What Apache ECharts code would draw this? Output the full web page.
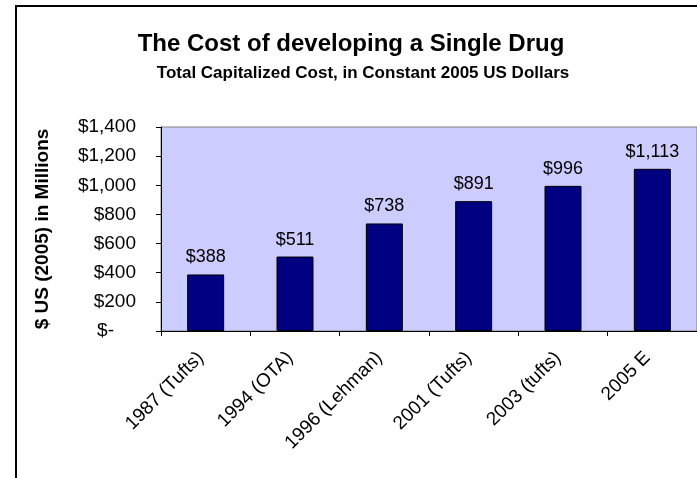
<!DOCTYPE html>
<html lang="en">
<head>
    <meta charset="UTF-8">
    <script type="text/javascript" src="https://cdn.jsdelivr.net/npm/echarts@6/dist/echarts.min.js"></script>
    <title>Cost of developing a Single Drug</title>
    <style type="text/css">
        html, body { margin: 0; padding: 0; background: #fff; }
        #chart { width: 697px; height: 478px; }
    </style>
</head>
<body>
<div id="chart"></div>
<script type="text/javascript">
    // study / year labels and cost in millions of 2005 US dollars
    const studies = ['1987 (Tufts)', '1994 (OTA)', '1996 (Lehman)', '2001 (Tufts)', '2003 (tufts)', '2005 E'];
    const costs = [388, 511, 738, 891, 996, 1113];
    const yTicks = [0, 200, 400, 600, 800, 1000, 1200, 1400];

    const font = 'Arial, "Liberation Sans", sans-serif';

    function dollars(v) {
        if (v === 0) return '{z|$-}';
        return '$' + v.toLocaleString('en-US');
    }

    let chart = echarts.init(document.getElementById('chart'));

    let option = {
        backgroundColor: '#ffffff',
        animation: false,
        title: [{
            text: 'The Cost of developing a Single Drug',
            left: 346,
            top: 27,
            textAlign: 'center',
            textStyle: { fontFamily: font, fontSize: 24, fontWeight: 'bold', color: '#000' }
        }, {
            text: 'Total Capitalized Cost, in Constant 2005 US Dollars',
            left: 358,
            top: 60,
            textAlign: 'center',
            textStyle: { fontFamily: font, fontSize: 17, fontWeight: 'bold', color: '#000' }
        }],
        graphic: [{
            type: 'rect',
            shape: { x: 16, y: 6, width: 800, height: 600 },
            style: { fill: 'none', stroke: '#000', lineWidth: 2 },
            silent: true
        }],
        grid: {
            left: 161,
            top: 127,
            right: -2,
            bottom: 147,
            show: true,
            backgroundColor: '#ccccff',
            borderColor: '#808080',
            borderWidth: 1
        },
        xAxis: {
            type: 'category',
            data: studies,
            axisLine: { lineStyle: { color: '#000', width: 1 } },
            axisTick: { show: true, length: 5, inside: false, lineStyle: { color: '#000' } },
            axisLabel: {
                rotate: 45,
                margin: 19,
                interval: 0,
                padding: [0, 7, 0, 0],
                color: '#000',
                fontFamily: font,
                fontSize: 19
            }
        },
        yAxis: {
            type: 'value',
            min: 0,
            max: 1400,
            interval: 200,
            name: '$ US (2005) in Millions',
            nameLocation: 'middle',
            nameGap: 109,
            nameRotate: 90,
            nameTextStyle: { fontFamily: font, fontSize: 19, fontWeight: 'bold', color: '#000' },
            axisLine: { show: true, lineStyle: { color: '#000', width: 1 } },
            axisTick: { show: true, length: 5, lineStyle: { color: '#000' } },
            splitLine: { show: false },
            axisLabel: {
                margin: 25,
                color: '#000',
                fontFamily: font,
                fontSize: 19,
                formatter: dollars,
                rich: {
                    z: { fontFamily: font, fontSize: 19, color: '#000', padding: [0, 22, 0, 0] }
                }
            }
        },
        series: [{
            type: 'bar',
            data: costs,
            barWidth: 37,
            itemStyle: { color: '#000080', borderColor: '#000', borderWidth: 1 },
            label: {
                show: true,
                position: 'top',
                distance: 8,
                color: '#000',
                fontFamily: font,
                fontSize: 18,
                formatter: p => dollars(p.value)
            }
        }]
    };
    chart.setOption(option);
</script>
</body>
</html>
